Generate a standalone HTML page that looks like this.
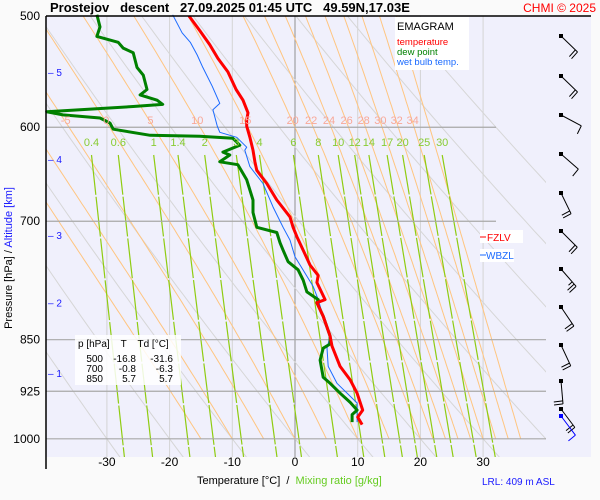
<!DOCTYPE html>
<html><head><meta charset="utf-8"><style>
html,body{margin:0;padding:0;background:#fafafa;}
svg{display:block;font-family:"Liberation Sans",Arial,sans-serif;}
</style></head><body>
<svg id="chart" width="600" height="500" viewBox="0 0 600 500" xmlns="http://www.w3.org/2000/svg">
<rect x="0" y="0" width="600" height="500" fill="#fafafa"/>
<rect x="46" y="16" width="545" height="441" fill="#f0f0fc"/>
<defs><clipPath id="clipA"><rect x="46" y="16" width="500" height="441"/></clipPath></defs>
<g id="grid" clip-path="url(#clipA)"></g>
<g id="profiles"></g>
<g id="barbs"></g>
<g id="labels"></g>
<line x1="46" y1="16" x2="591" y2="16" stroke="#000" stroke-width="1.5"/>
<line x1="46" y1="16" x2="46" y2="469" stroke="#000" stroke-width="1.5"/>
<text x="50" y="12" font-size="13" font-weight="bold" fill="#000" xml:space="preserve">Prostejov   descent   27.09.2025 01:45 UTC   49.59N,17.03E</text>
<text x="596" y="12" font-size="12" fill="#ff0000" text-anchor="end">CHMI © 2025</text>
<g>
<rect x="395" y="17" width="74" height="53" fill="#ffffff"/>
<text x="397" y="30" font-size="11" fill="#000">EMAGRAM</text>
<text x="397" y="45" font-size="9.5" fill="#ff0000">temperature</text>
<text x="397" y="55" font-size="9.5" fill="#008000">dew point</text>
<text x="397" y="65" font-size="9.5" fill="#1a6aff">wet bulb temp.</text>
</g>
<g>
<rect x="75" y="335" width="106" height="50" fill="#ffffff" opacity="0.85"/>
<text x="78" y="347" font-size="10" xml:space="preserve">p [hPa]    T    Td [°C]</text>
<text font-size="10"><tspan x="103" y="362" text-anchor="end">500</tspan><tspan x="136" y="362" text-anchor="end">-16.8</tspan><tspan x="173" y="362" text-anchor="end">-31.6</tspan></text>
<text font-size="10"><tspan x="103" y="372" text-anchor="end">700</tspan><tspan x="136" y="372" text-anchor="end">-0.8</tspan><tspan x="173" y="372" text-anchor="end">-6.3</tspan></text>
<text font-size="10"><tspan x="103" y="382" text-anchor="end">850</tspan><tspan x="136" y="382" text-anchor="end">5.7</tspan><tspan x="173" y="382" text-anchor="end">5.7</tspan></text>
</g>
<g>
<rect x="480" y="230" width="43" height="13" fill="#ffffff"/>
<line x1="480" y1="237" x2="486" y2="237" stroke="#ff0000"/>
<text x="487" y="241" font-size="10" fill="#ff0000">FZLV</text>
<rect x="480" y="249" width="34" height="13" fill="#ffffff"/>
<line x1="480" y1="255" x2="486" y2="255" stroke="#1a6aff"/>
<text x="486" y="259" font-size="10" fill="#1a6aff">WBZL</text>
</g>
<text transform="translate(12,258) rotate(-90)" font-size="11" text-anchor="middle">Pressure [hPa]  /  <tspan fill="#1a1aff">Altitude [km]</tspan></text>
<text x="197" y="484" font-size="11" xml:space="preserve">Temperature [°C]  /  <tspan fill="#66cc22">Mixing ratio [g/kg]</tspan></text>
<text x="482" y="485" font-size="10" fill="#1a1aff">LRL: 409 m ASL</text>
</svg>
<script>
// ---- data ----
const pLevels = [500, 600, 700, 850, 925, 1000];
const tTicks = [-30, -20, -10, 0, 10, 20, 30];
const altKm = [5, 4, 3, 2, 1];
const altP = [548, 632, 716, 800, 898];
const tempP = [500,512,524,536,548,564,574,586,593,599,610,623,635,644,658,676,695,707,718,734,752,765,774,796,800,818,845,859,888,908,928,954,965,977];
const tempT = [-16.9,-15.2,-13.6,-12.3,-10.7,-9.4,-8.3,-7.5,-7.7,-7.7,-7.2,-6.7,-6.4,-6.1,-4.5,-2.9,-0.8,-0.3,0.3,1.3,2.4,3.7,3.5,4.8,3.5,4.5,5.6,5.9,7.2,8.8,9.9,10.8,10.0,10.7];
const dewP = [499,509,517,522,527,531,544,551,564,569,574,578,580,585,588,591,596,602,608,609,611,618,625,628,635,638,654,676,690,707,713,725,734,748,758,771,786,796,800,818,845,856,862,879,904,913,928,942,954,961,973];
const dewT = [-31.6,-31.1,-31.6,-28.2,-27.4,-25.8,-25.2,-24.2,-23.6,-24.7,-22.0,-21.1,-25.8,-39.6,-37.0,-31.1,-29.5,-29.0,-23.1,-15.2,-9.9,-8.8,-11.5,-10.4,-12.0,-9.1,-7.7,-6.7,-6.7,-6.1,-2.9,-2.4,-1.9,-1.1,0.5,1.3,1.9,3.7,3.5,4.5,5.6,5.6,4.5,4.0,4.5,5.6,7.2,8.8,9.9,9.1,9.1];
const wbP = [499,514,522,533,544,561,577,583,599,605,610,620,623,640,658,684,707,722,742,779,796,818,845,862,888,913,943,973];
const wbT = [-19.5,-18.0,-16.7,-15.6,-14.7,-13.2,-12.0,-13.1,-12.4,-12.0,-9.3,-7.7,-8.0,-7.2,-5.1,-3.5,-1.9,-0.8,0.0,2.9,3.7,4.5,5.6,5.1,5.3,6.7,9.9,9.9];
const thetaDry = [-30,-20,-10,0,10,20,30,40,50,60,70,80];
const thetaW = [-15,-10,-5,0,5,10,15,20,22,24,26,28,30,32,34,36];
const thetaWLabels = [-5,0,5,10,15,20,22,24,26,28,30,32,34];
const mixR = [0.4,0.6,1,1.4,2,3,4,6,8,10,12,14,17,20,25,30];
const windDir = [134,134,118,131,154,135,139,146,155,175,143];
const windSpd = [20,20,10,10,20,20,25,20,20,20,20];
const windY = [36,76,115,154,193,231,269,307,345,381,409];

// ---- scales ----
const X = t => 295 + t * 6.27;
const Y = p => 16 + 610 * Math.log(p / 500);
const NS = 'http://www.w3.org/2000/svg';
function mk(tag, parent, attrs){ const e=document.createElementNS(NS,tag); for(const k in attrs) e.setAttribute(k,attrs[k]); parent.appendChild(e); return e; }
const grid=document.getElementById('grid'), prof=document.getElementById('profiles'), barbs=document.getElementById('barbs'), labels=document.getElementById('labels');

// isotherms
tTicks.forEach(t=>{
  const l=mk('line',grid,{x1:X(t),y1:16,x2:X(t),y2:457,stroke:t===0?'#909090':'#d4d4d4','stroke-width':1});
  
  
});
// dry adiabats
thetaDry.forEach(th=>{
  let d='';
  for(let p=500;p<=1040;p+=10){ const t=(th+273.15)*Math.pow(p/1000,0.2857)-273.15; d+=(d?'L':'M')+X(t).toFixed(1)+','+Y(p).toFixed(1); }
  const l=mk('path',grid,{d:d,fill:'none',stroke:'#d6d6d6','stroke-width':1});
  
  
});
// moist adiabats
function es(T){ return 6.112*Math.exp(17.67*(T-273.15)/(T-29.65)); }
function moist(thw){
  const pts={}; let T=thw+273.15;
  for(let p=1000;p>=495;p-=5){ pts[p]=T-273.15; const e=es(T), rs=0.622*e/(p-e);
    const g=(287*T+2.5e6*rs)/(1005+2.5e6*2.5e6*rs*0.622/(287*T*T))/p; T-=g*5; }
  return pts;
}
thetaW.forEach(tw=>{
  const pts=moist(tw); let d='';
  for(let p=500;p<=1000;p+=5){ d+=(d?'L':'M')+X(pts[p]).toFixed(1)+','+Y(p).toFixed(1); }
  const l=mk('path',grid,{d:d,fill:'none',stroke:'#ffc580','stroke-width':1});
  
  
  if(thetaWLabels.includes(tw)){
    const tx=mk('text',labels,{x:X(pts[595]).toFixed(1),y:124,'font-size':11,fill:'#f8a898','text-anchor':'middle'});
    tx.textContent=tw;
    
    
  }
});
// mixing ratio lines
function tdw(w,p){ const e=w*p/(622+w), ln=Math.log(e/6.112); return 243.5*ln/(17.67-ln); }
mixR.forEach(w=>{
  const d='M'+X(tdw(w,628)).toFixed(1)+','+Y(628).toFixed(1)+'L'+X(tdw(w,1032)).toFixed(1)+','+Y(1032).toFixed(1);
  const l=mk('path',grid,{d:d,fill:'none',stroke:'#8fcc11','stroke-width':1.2,'stroke-dasharray':'40,2'});
  
  
  const tx=mk('text',labels,{x:X(tdw(w,628)).toFixed(1),y:146,'font-size':11,fill:'#88cc33','text-anchor':'middle'});
  tx.textContent=w;
  
  
});
// isobars
pLevels.forEach(p=>{
  if(p!==500){
    const l=mk('line',grid,{x1:46,y1:Y(p),x2:p<=700?496:546,y2:Y(p),stroke:'#a8a8a8','stroke-width':1.2});
    
    
  }
  const tx=mk('text',labels,{x:40,y:Y(p)+4,'font-size':12,'text-anchor':'end',fill:'#000'});
  tx.textContent=p;
  
  
});
// temperature ticks
tTicks.forEach(t=>{
  const tx=mk('text',labels,{x:X(t),y:466,'font-size':12,'text-anchor':'middle',fill:'#000'});
  tx.textContent=t;
  
  
});
// altitude markers
altKm.forEach((k,i)=>{
  const tx=mk('text',labels,{x:48,y:Y(altP[i])+4,'font-size':10,fill:'#1a1aff'});
  tx.textContent='\u2013 '+k;
  
  
});
// profiles
function line(P,T,color,w,name){
  let d=''; P.forEach((p,i)=>{ d+=(i?'L':'M')+X(T[i]).toFixed(1)+','+Y(p).toFixed(1); });
  const l=mk('path',prof,{d:d,fill:'none',stroke:color,'stroke-width':w,'stroke-linejoin':'round'});
  
  
}
line(wbP,wbT,'#1a6aff',1,'wet-bulb-line');
line(dewP,dewT,'#008000',3,'dew-point-line');
line(tempP,tempT,'#ff0000',3,'temperature-line');
// wind barbs
function drawBarb(x0,y0,dir,spd,color,L,name){
  const r=dir*Math.PI/180;
  const ux=Math.sin(r), uy=-Math.cos(r);
  const x1=x0+ux*L, y1=y0+uy*L;
  const g=mk('g',barbs,{});
  
  
  mk('rect',g,{x:x0-2,y:y0-2,width:4,height:4,fill:color});
  mk('line',g,{x1:x0,y1:y0,x2:x1,y2:y1,stroke:color,'stroke-width':1});
  const fr=r+88*Math.PI/180, fx=Math.sin(fr), fy=-Math.cos(fr);
  let s=spd, k=0;
  while(s>=10){ const bx=x1-ux*k*3, by=y1-uy*k*3; mk('line',g,{x1:bx,y1:by,x2:bx+fx*9,y2:by+fy*9,stroke:color}); s-=10;k++; }
  if(s>=5){ const bx=x1-ux*k*3, by=y1-uy*k*3; mk('line',g,{x1:bx,y1:by,x2:bx+fx*5,y2:by+fy*5,stroke:color}); }
}
windDir.forEach((dir,i)=>{ drawBarb(561, windY[i], dir, windSpd[i], '#000', 23, 'wind-barb'); });
drawBarb(561, 416, 143, 10, '#0000ff', 24, 'surface-wind-barb');
</script>
</body></html>
